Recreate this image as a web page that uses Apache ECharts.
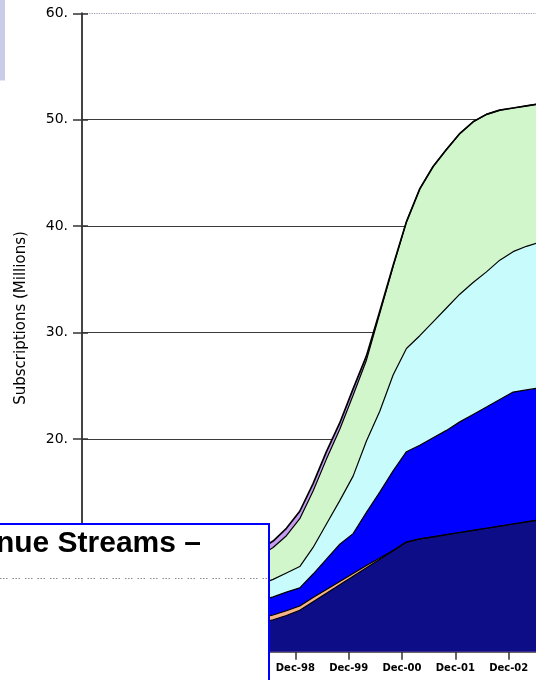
<!DOCTYPE html>
<html>
<head>
<meta charset="utf-8">
<script src="https://cdn.jsdelivr.net/npm/echarts@6/dist/echarts.min.js"></script>
<style>
  html, body { margin: 0; padding: 0; background: #ffffff; }
  #chart { width: 536px; height: 680px; }
</style>
</head>
<body>
<div id="chart"></div>
<script>
// Quarter-end dates of the stacked subscription series
const quarters = [
  'Sep-97', 'Dec-97', 'Mar-98', 'Jun-98', 'Sep-98', 'Dec-98',
  'Mar-99', 'Jun-99', 'Sep-99', 'Dec-99', 'Mar-00', 'Jun-00',
  'Sep-00', 'Dec-00', 'Mar-01', 'Jun-01', 'Sep-01', 'Dec-01',
  'Mar-02', 'Jun-02', 'Sep-02', 'Dec-02', 'Mar-03', 'Jun-03'
];

// Subscriptions (millions) per band, bottom to top
const navyBand  = [2.2, 2.5, 2.7, 3.0, 3.4, 3.9, 4.7, 5.5, 6.3, 7.1, 7.9, 8.7, 9.5, 10.3, 10.6, 10.8, 11.0, 11.2, 11.4, 11.6, 11.8, 12.0, 12.2, 12.4];
const peachBand = [0.4, 0.45, 0.45, 0.45, 0.45, 0.4, 0.4, 0.35, 0.3, 0.25, 0.2, 0.1, 0, 0, 0, 0, 0, 0, 0, 0, 0, 0, 0, 0];
const blueBand  = [1.4, 1.45, 1.65, 1.7, 1.75, 1.7, 2.2, 2.85, 3.5, 3.75, 5.0, 6.2, 7.5, 8.5, 8.8, 9.3, 9.8, 10.4, 10.9, 11.4, 11.9, 12.4, 12.4, 12.4];
const cyanBand  = [1.3, 1.4, 1.5, 1.65, 1.8, 2.0, 2.5, 3.3, 4.1, 5.4, 6.7, 7.6, 9.0, 9.7, 10.3, 10.9, 11.5, 12.0, 12.4, 12.7, 13.1, 13.2, 13.5, 13.7];
const greenBand = [2.2, 2.5, 2.7, 3.0, 3.5, 4.5, 5.3, 6.1, 6.7, 7.6, 7.6, 9.2, 10.2, 11.9, 13.8, 14.6, 14.9, 15.1, 15.1, 14.8, 14.1, 13.5, 13.2, 13.0];
const lilacBand = [0.5, 0.5, 0.6, 0.6, 0.7, 0.7, 0.7, 0.7, 0.6, 0.6, 0.4, 0.2, 0.1, 0, 0, 0, 0, 0, 0, 0, 0, 0, 0, 0];

// Year tick labels on the time axis (one every 12 months from Dec-94)
const tickLabels = ['Dec-94', 'Dec-95', 'Dec-96', 'Dec-97', 'Dec-98', 'Dec-99', 'Dec-00', 'Dec-01', 'Dec-02', 'Dec-03'];
const yTicks = [0, 10, 20, 30, 40, 50, 60];

const MONTHS = ['Jan', 'Feb', 'Mar', 'Apr', 'May', 'Jun', 'Jul', 'Aug', 'Sep', 'Oct', 'Nov', 'Dec'];
// Months elapsed from 1 Dec 1994 to the end of the given month
function monthIndex(label) {
  const parts = label.split('-');
  const yy = parseInt(parts[1], 10);
  const year = yy < 50 ? 2000 + yy : 1900 + yy;
  return (year - 1994) * 12 + MONTHS.indexOf(parts[0]) - 10;
}
const xs = quarters.map(monthIndex);

const bands = [
  { name: 'navy',  data: navyBand,  color: '#0d0d88', edge: 1.2 },
  { name: 'peach', data: peachBand, color: '#f4b488', edge: 1.2 },
  { name: 'blue',  data: blueBand,  color: '#0000ff', edge: 1.2 },
  { name: 'cyan',  data: cyanBand,  color: '#c8fcfc', edge: 1.2 },
  { name: 'green', data: greenBand, color: '#d2f6cc', edge: 1.2 },
  { name: 'lilac', data: lilacBand, color: '#c49cf0', edge: 1.7 }
];

// Running totals: each band is drawn as an area from the axis up to its
// cumulative top, upper bands first so the lower ones paint over them.
let running = xs.map(() => 0);
bands.forEach(b => {
  running = running.map((s, i) => s + b.data[i]);
  b.top = running.map(v => Math.round(v * 100) / 100);
});

const chart = echarts.init(document.getElementById('chart'), null, { renderer: 'canvas' });

const gridColors = yTicks.map(v => (v === 60 ? 'rgba(0,0,0,0)' : '#3a3a3a'));
const borderColors = yTicks.map(v => (v === 60 ? '#9c9cb4' : 'rgba(0,0,0,0)'));

chart.setOption({
  animation: false,
  backgroundColor: '#ffffff',
  grid: { left: 82, top: 13.3, width: 480, height: 638.4, outerBoundsMode: 'none' },
  xAxis: {
    type: 'value',
    min: 0,
    max: 108,
    interval: 12,
    axisLine: { show: true, lineStyle: { color: '#333', width: 1.5 } },
    axisTick: { show: true, length: 8, lineStyle: { color: '#333', width: 1.5 } },
    axisLabel: {
      margin: 12,
      fontFamily: 'DejaVu Sans',
      fontWeight: 'bold',
      fontSize: 10,
      color: '#000',
      formatter: v => tickLabels[Math.round(v / 12)] || ''
    },
    splitLine: { show: false }
  },
  yAxis: [
    {
      type: 'value',
      min: 0,
      max: 60,
      interval: 10,
      axisLine: { show: true, lineStyle: { color: '#444', width: 2 } },
      axisTick: { show: true, length: 9, lineStyle: { color: '#333', width: 1.5 } },
      axisLabel: {
        margin: 14,
        fontFamily: 'DejaVu Sans',
        fontSize: 14,
        color: '#000',
        formatter: v => (v === 0 ? '' : v + '.')
      },
      splitLine: { show: true, lineStyle: { color: gridColors, width: 1.2 } }
    },
    {
      type: 'value',
      position: 'left',
      min: 0,
      max: 60,
      interval: 10,
      axisLine: { show: false },
      axisTick: { show: true, inside: true, length: 6, lineStyle: { color: '#333', width: 1.5 } },
      axisLabel: { show: false },
      splitLine: { show: true, lineStyle: { color: borderColors, width: 1.2, type: 'dotted' } }
    }
  ],
  series: bands.slice().reverse().map(b => ({
    name: b.name,
    type: 'line',
    yAxisIndex: 0,
    symbol: 'none',
    smooth: false,
    data: b.top.map((v, i) => [xs[i], v]),
    lineStyle: { color: '#000', width: b.edge },
    areaStyle: { color: b.color, opacity: 1, origin: 'start' }
  })),
  graphic: [
    // slide accent at the upper left
    { type: 'rect', z: 100, shape: { x: 0, y: 0, width: 5, height: 80.5 }, style: { fill: '#cbcbea' } },
    // y-axis title
    {
      type: 'text', z: 100, x: 21, y: 318, rotation: Math.PI / 2,
      style: {
        text: 'Subscriptions (Millions)',
        fontFamily: 'DejaVu Sans', fontSize: 15, fill: '#000',
        textAlign: 'center', textVerticalAlign: 'middle'
      }
    },
    // overlapping text panel
    {
      type: 'rect', z: 100,
      shape: { x: -10, y: 524, width: 279, height: 200 },
      style: { fill: '#ffffff', stroke: '#0000ff', lineWidth: 2 }
    },
    {
      type: 'text', z: 101, x: 201, y: 559,
      style: {
        text: 'Revenue Streams \u2013',
        fontFamily: 'Liberation Sans', fontWeight: 'bold', fontSize: 30, fill: '#000',
        textAlign: 'right', textVerticalAlign: 'bottom'
      }
    },
    {
      type: 'line', z: 101,
      shape: { x1: 0, y1: 578.5, x2: 268, y2: 578.5 },
      style: { stroke: '#8a8a8a', lineWidth: 1.2, lineDash: [1.5, 1.5, 1.5, 1.5, 1.5, 5] }
    }
  ]
});
</script>
</body>
</html>
